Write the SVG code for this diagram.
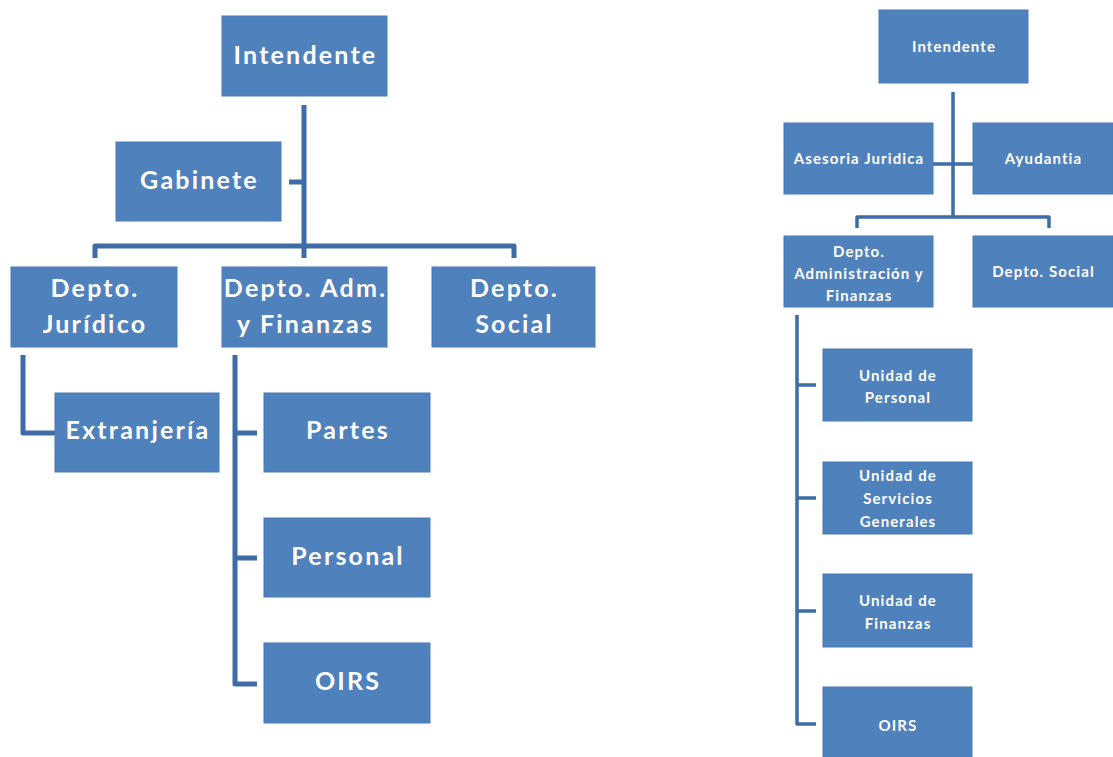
<svg xmlns="http://www.w3.org/2000/svg" width="1113" height="757" viewBox="0 0 1113 757">
<style>
.box{fill:#4f81bd;stroke:#4a7ab5;stroke-width:1}
.t{fill:#ffffff;font-family:Lato,"Open Sans","Liberation Sans",sans-serif;font-weight:bold;text-anchor:middle}
.tl{font-size:25px;letter-spacing:2.2px}
.tr{font-size:15px;letter-spacing:1.1px}
.ln{fill:none;stroke:#3d6ca6;stroke-linecap:butt;stroke-linejoin:round}
.lL{stroke-width:5}
.lR{stroke-width:3.5}
</style>
<rect width="1113" height="757" fill="#ffffff"/>
<g id="connectors">
<path class="ln lL" d="M304 105 V258 M289 182 H304 M95 258 V246 H514 V258"/>
<path class="ln lL" d="M23 355 V433 H55"/>
<path class="ln lL" d="M235 355 V684 H257 M235 433 H257 M235 558 H257"/>
<path class="ln lR" d="M953 92 V217 M933 164 H973 M857 228 V217 H1049 V228"/>
<path class="ln lR" d="M797 315 V724 H816 M797 385 H816 M797 498 H816 M797 611 H816"/>
</g>
<g id="L-intendente"><rect class="box" x="222" y="16" width="165" height="80"/><text class="t tl" x="305.5" y="64">Intendente</text></g>
<g id="L-gabinete"><rect class="box" x="116" y="142" width="165" height="79"/><text class="t tl" x="199.5" y="189">Gabinete</text></g>
<g id="L-juridico"><rect class="box" x="11" y="267" width="166" height="80"/><text class="t tl" x="95" y="297">Depto.</text><text class="t tl" x="95" y="333">Jurídico</text></g>
<g id="L-adm"><rect class="box" x="222" y="267" width="165" height="80"/><text class="t tl" x="305.5" y="297">Depto. Adm.</text><text class="t tl" x="305.5" y="333">y Finanzas</text></g>
<g id="L-social"><rect class="box" x="432" y="267" width="163" height="80"/><text class="t tl" x="514.5" y="297">Depto.</text><text class="t tl" x="514.5" y="333">Social</text></g>
<g id="L-extranjeria"><rect class="box" x="55" y="393" width="164" height="79"/><text class="t tl" x="138" y="439">Extranjería</text></g>
<g id="L-partes"><rect class="box" x="264" y="393" width="166" height="79"/><text class="t tl" x="348" y="439">Partes</text></g>
<g id="L-personal"><rect class="box" x="264" y="518" width="166" height="79"/><text class="t tl" x="348" y="565">Personal</text></g>
<g id="L-oirs"><rect class="box" x="264" y="643" width="166" height="80"/><text class="t tl" x="348" y="690">OIRS</text></g>
<g id="R-intendente"><rect class="box" x="879" y="10" width="149" height="73"/><text class="t tr" x="954" y="52">Intendente</text></g>
<g id="R-asesoria"><rect class="box" x="784" y="123" width="149" height="71"/><text class="t tr" x="859" y="164">Asesoria Juridica</text></g>
<g id="R-ayudantia"><rect class="box" x="973" y="123" width="140" height="71"/><text class="t tr" x="1043.5" y="164">Ayudantia</text></g>
<g id="R-adm"><rect class="box" x="784" y="236" width="149" height="71"/><text class="t tr" x="859" y="257">Depto.</text><text class="t tr" x="859" y="279">Administración y</text><text class="t tr" x="859" y="301">Finanzas</text></g>
<g id="R-social"><rect class="box" x="973" y="236" width="140" height="71"/><text class="t tr" x="1043.5" y="277">Depto. Social</text></g>
<g id="R-personal"><rect class="box" x="823" y="349" width="149" height="72"/><text class="t tr" x="898" y="381">Unidad de</text><text class="t tr" x="898" y="403">Personal</text></g>
<g id="R-servicios"><rect class="box" x="823" y="462" width="149" height="72"/><text class="t tr" x="898" y="481">Unidad de</text><text class="t tr" x="898" y="504">Servicios</text><text class="t tr" x="898" y="527">Generales</text></g>
<g id="R-finanzas"><rect class="box" x="823" y="574" width="149" height="73"/><text class="t tr" x="898" y="606">Unidad de</text><text class="t tr" x="898" y="629">Finanzas</text></g>
<g id="R-oirs"><rect class="box" x="823" y="687" width="149" height="72"/><text class="t tr" x="898" y="731">OIRS</text></g>
</svg>
